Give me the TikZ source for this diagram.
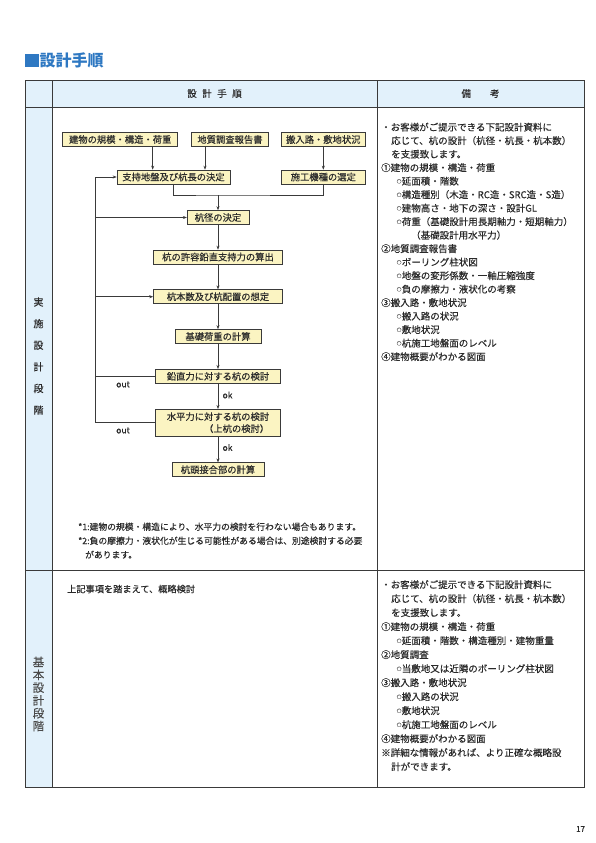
\documentclass[tikz,border=0pt]{standalone}
\usepackage{fontspec}
\setmainfont{Noto Sans CJK JP}[UprightFeatures={FakeBold=0.3}]
\usetikzlibrary{arrows.meta}
\definecolor{ttl}{HTML}{2E78C2}
\definecolor{hdr}{HTML}{E2F1FB}
\definecolor{bx}{HTML}{FBF4C2}
\definecolor{ln}{HTML}{3A3A3A}
\definecolor{tx}{HTML}{2A2A2A}
\newcommand\smcirc{\hspace*{15.5pt}\raisebox{1.6pt}{\color{tx!70}\fontsize{4.8}{5}\selectfont ○}\hspace{0.3pt}}
\newcommand\ind{\hspace*{10pt}}
\tikzset{
  fbox/.style={draw=ln, fill=bx, line width=0.6pt, inner sep=0pt, minimum height=14pt, text=tx, font=\fontsize{9.3}{11}\selectfont},
  arr/.style={draw=ln, line width=0.6pt, -{Stealth[length=4pt,width=3pt]}},
  conn/.style={draw=ln, line width=0.6pt},
  rtext/.style={anchor=north west, inner sep=0pt, align=left, text=tx, font=\fontsize{9.5}{13.5}\selectfont},
  tline/.style={draw=ln, line width=0.8pt},
  lbl/.style={inner sep=0pt, text=tx, font=\fontsize{8.5}{10}\selectfont}
}
\begin{document}
\begin{tikzpicture}[x=1pt,y=-1pt]
\useasboundingbox (0,0) rectangle (596,843);
\fill[white] (0,0) rectangle (596,843);
% title
\fill[ttl] (25,54) rectangle (38.5,67);
\node[anchor=west, inner sep=0pt, text=ttl, font=\fontsize{16}{17}\selectfont\bfseries] (title) at (39.5,60.5) {設計手順};
% table
\fill[hdr] (25,80) rectangle (584,107);
\fill[hdr] (25,107) rectangle (52,787);
\draw[tline] (25,80) rectangle (584,787);
\draw[tline] (25,107) -- (584,107);
\draw[tline] (25,570) -- (584,570);
\draw[tline] (52,80) -- (52,787);
\draw[tline] (377,80) -- (377,787);
\node[text=tx, font=\fontsize{9.5}{11}\selectfont] (h1) at (214.5,93.5) {設\hspace{5.5pt}計\hspace{5.5pt}手\hspace{5.5pt}順};
\node[text=tx, font=\fontsize{9.5}{11}\selectfont] (h2) at (480.5,93.5) {備\hspace{19pt}考};
\node[text=tx, align=center, font=\fontsize{10}{21.6}\selectfont] (lab1) at (38.5,356) {実\\施\\設\\計\\段\\階};
\node[text=tx!85, align=center, font=\fontsize{11.5}{12.8}\selectfont] (lab2) at (38.5,694) {基\\本\\設\\計\\段\\階};
% flowchart
\node[fbox, minimum width=115pt] (b1) at (120.2,139.5) {建物の規模・構造・荷重};
\node[fbox, minimum width=76.6pt] (b2) at (230,139.5) {地質調査報告書};
\node[fbox, minimum width=83.3pt] (b3) at (323.3,139.5) {搬入路・敷地状況};
\node[fbox, minimum width=113pt] (b4) at (173.5,177) {支持地盤及び杭長の決定};
\node[fbox, minimum width=83.3pt] (b5) at (323.3,177) {施工機種の選定};
\node[fbox, minimum width=61.6pt] (b6) at (218,217.5) {杭径の決定};
\node[fbox, minimum width=129pt] (b7) at (218,257) {杭の許容鉛直支持力の算出};
\node[fbox, minimum width=129pt] (b8) at (218,296.7) {杭本数及び杭配置の想定};
\node[fbox, minimum width=86.3pt] (b9) at (218,336.5) {基礎荷重の計算};
\node[fbox, minimum width=124.7pt] (b10) at (218,376.3) {鉛直力に対する杭の検討};
\node[fbox, minimum width=124.7pt, minimum height=26.7pt, align=right, font=\fontsize{9.3}{12}\selectfont] (b11) at (218,422.7) {水平力に対する杭の検討\\（上杭の検討）};
\node[fbox, minimum width=91.6pt] (b12) at (218,469.7) {杭頭接合部の計算};
\coordinate (a1) at ([xshift=32.5pt]b1.south);
\coordinate (a2) at ([xshift=-25pt]b2.south);
\draw[arr] (a1) -- (a1 |- b4.north);
\draw[arr] (a2) -- (a2 |- b4.north);
\draw[arr] (b3.south) -- (b5.north);
\coordinate (m) at (218,195);
\draw[conn] (b4.south) |- (m) -| (b5.south);
\draw[arr] (m) -- (b6.north);
\draw[arr] (b6) -- (b7);
\draw[arr] (b7) -- (b8);
\draw[arr] (b8) -- (b9);
\draw[arr] (b9) -- (b10);
\draw[arr] (b10) -- (b11);
\draw[arr] (b11) -- (b12);
\coordinate (fb) at (95,0);
\draw[conn] (b10.west) -- (b10.west -| fb);
\draw[conn] (b11.west) -- (b11.west -| fb) -- (b4.west -| fb);
\draw[arr] (b4.west -| fb) -- (b4.west);
\draw[arr] (b6.west -| fb) -- (b6.west);
\draw[arr] (b8.west -| fb) -- (b8.west);
\node[lbl] (o1) at (123,384.5) {out};
\node[lbl] (o2) at (123,430.5) {out};
\node[lbl] (k1) at (227.5,395) {ok};
\node[lbl] (k2) at (227.5,447.5) {ok};
% notes
\node[anchor=north west, inner sep=0pt, align=left, text=tx, font=\fontsize{8.8}{14}\selectfont] (notes) at (78,522.5) {*1:建物の規模・構造により、水平力の検討を行わない場合もあります。\\*2:負の摩擦力・液状化が生じる可能性がある場合は、別途検討する必要\\\hspace*{7pt}があります。};
\node[anchor=west, inner sep=0pt, text=tx, font=\fontsize{9.2}{11}\selectfont] (basic) at (67,589) {上記事項を踏まえて、概略検討};
% right texts
\node[rtext] (r1) at (381,122.5) {・お客様がご提示できる下記設計資料に\\
\ind 応じて、杭の設計（杭径・杭長・杭本数）\\
\ind を支援致します。\\
①建物の規模・構造・荷重\\
\smcirc 延面積・階数\\
\smcirc 構造種別（木造・RC造・SRC造・S造）\\
\smcirc 建物高さ・地下の深さ・設計GL\\
\smcirc 荷重（基礎設計用長期軸力・短期軸力）\\
\hspace*{30pt}（基礎設計用水平力）\\
②地質調査報告書\\
\smcirc ボーリング柱状図\\
\smcirc 地盤の変形係数・一軸圧縮強度\\
\smcirc 負の摩擦力・液状化の考察\\
③搬入路・敷地状況\\
\smcirc 搬入路の状況\\
\smcirc 敷地状況\\
\smcirc 杭施工地盤面のレベル\\
④建物概要がわかる図面};
\node[rtext, font=\fontsize{9.5}{14}\selectfont] (r2) at (381,580) {・お客様がご提示できる下記設計資料に\\
\ind 応じて、杭の設計（杭径・杭長・杭本数）\\
\ind を支援致します。\\
①建物の規模・構造・荷重\\
\smcirc 延面積・階数・構造種別・建物重量\\
②地質調査\\
\smcirc 当敷地又は近隣のボーリング柱状図\\
③搬入路・敷地状況\\
\smcirc 搬入路の状況\\
\smcirc 敷地状況\\
\smcirc 杭施工地盤面のレベル\\
④建物概要がわかる図面\\
※詳細な情報があれば、より正確な概略設\\
\ind 計ができます。};
% page number
\node[text=tx, font=\fontsize{8}{9}\selectfont] (pg) at (580.5,829) {17};
\end{tikzpicture}
\end{document}
